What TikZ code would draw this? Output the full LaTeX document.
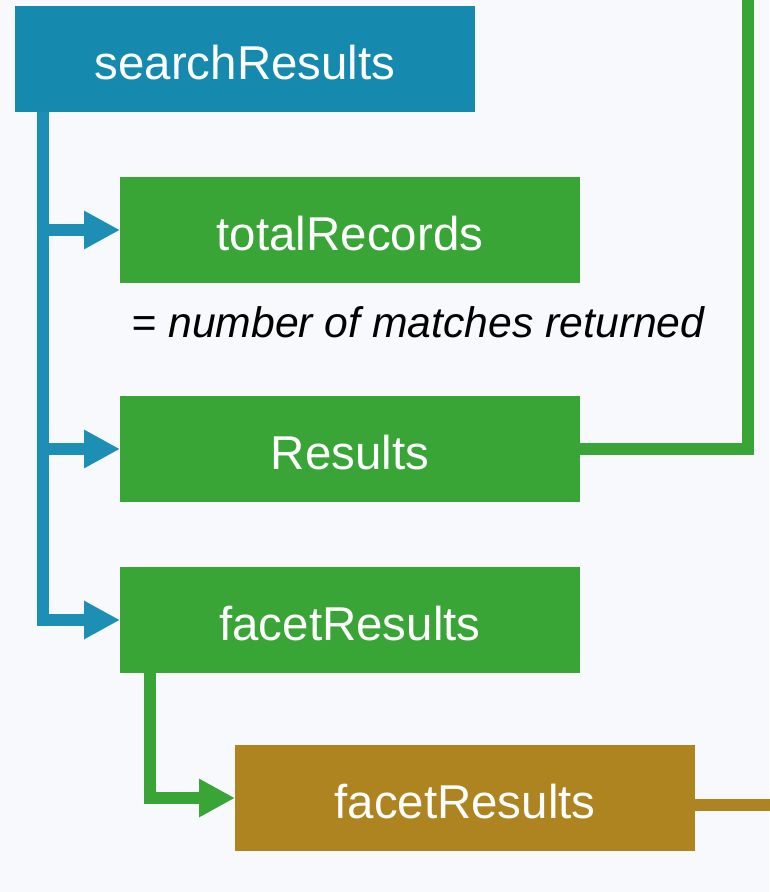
\documentclass[tikz,border=0pt]{standalone}
\usepackage{fontspec}
\setmainfont{Liberation Sans}
\usetikzlibrary{positioning,arrows.meta}
\definecolor{srblue}{HTML}{1589AE}
\definecolor{srline}{HTML}{1E8FB4}
\definecolor{srgreen}{HTML}{38A536}
\definecolor{srbrown}{HTML}{AE8421}
\definecolor{srback}{HTML}{F8F9FD}

\begin{document}
\begin{tikzpicture}[x=0.75pt, y=-0.75pt,
	box/.style={rectangle, minimum width=345pt, minimum height=79.5pt, inner sep=0pt, outer sep=0pt, text height=30.5pt, text depth=0pt, text=white, font=\fontsize{35.6}{40}\selectfont},
	link/.style={line width=9pt, line join=miter},
	tip/.style={link, -{Triangle[length=27pt, width=27pt]}}]
	\fill[srback] (0,0) rectangle (769,892);
	\useasboundingbox (0,0) rectangle (769,892);
	
	\node[box, fill=srblue, anchor=north west] (search) at (15,6) {searchResults};
	\node[box, fill=srgreen, below right=48.75pt and 78.75pt of search.south west] (total) {totalRecords};
	\node[anchor=base west, font=\fontsize{32}{36}\selectfont\itshape] (matches) at (127,337) {= number of matches returned};
	\node[box, fill=srgreen, below=84.75pt of total] (results) {Results};
	\node[box, fill=srgreen, below=48.75pt of results] (facet) {facetResults};
	\node[box, fill=srbrown, below right=54pt and 86.25pt of facet.south west] (facetsub) {facetResults};
	
	% trunk of searchResults
	\coordinate (trunk) at ([xshift=21pt] search.south west);
	\draw[tip, srline] (trunk) |- (facet.west);
	\draw[tip, srline] (trunk |- total.west) -- (total.west);
	\draw[tip, srline] (trunk |- results.west) -- (results.west);
	
	% links leaving the picture
	\coordinate (outA) at (748,-10);
	\coordinate (outB) at (780,805);
	\draw[link, srgreen] (results.east) -| (outA);
	\draw[link, srbrown] ([yshift=-5.25pt] facetsub.east) -- (outB);
	
	\draw[tip, srgreen] ([xshift=22.5pt] facet.south west) |- (facetsub.west);
\end{tikzpicture}
\end{document}
